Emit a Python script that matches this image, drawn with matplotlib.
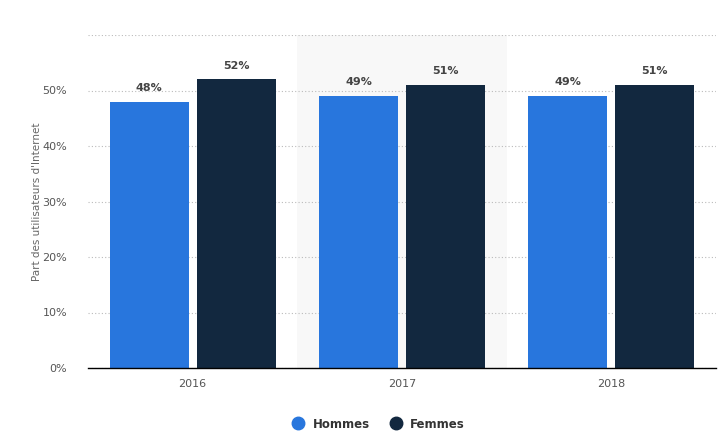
import matplotlib
matplotlib.use("Agg")
import matplotlib.pyplot as plt
import numpy as np
from matplotlib.lines import Line2D

years = ["2016", "2017", "2018"]
hommes = [48, 49, 49]
femmes = [52, 51, 51]
series_names = ["Hommes", "Femmes"]
yticks = [0, 10, 20, 30, 40, 50, 60]

C_H = "#2876dd"
C_F = "#12283f"

fig = plt.figure(figsize=(7.25, 4.45), dpi=100)
ax = fig.add_axes([88 / 725, 77 / 445, 628 / 725, 333 / 445])

x = np.arange(len(years))
w = 0.378
off = 0.208
ax.axvspan(0.5, 1.5, color="#f8f8f8", zorder=0, lw=0)
ax.bar(x - off, hommes, width=w, color=C_H, zorder=3)
ax.bar(x + off, femmes, width=w, color=C_F, zorder=3)

for xi, v in zip(x - off, hommes):
    ax.text(xi, v + 1.6, f"{v}%", ha="center", va="bottom", fontsize=8,
            fontweight="bold", color="#444444")
for xi, v in zip(x + off, femmes):
    ax.text(xi, v + 1.6, f"{v}%", ha="center", va="bottom", fontsize=8,
            fontweight="bold", color="#444444")

ax.set_xlim(-0.5, 2.5)
ax.set_ylim(0, 60)
ax.set_yticks(yticks)
ax.set_yticklabels([f"{t}%" if t < 60 else "" for t in yticks])
ax.set_xticks(x)
ax.set_xticklabels(years)
ax.yaxis.grid(True, linestyle=(0, (1, 2)), color="#bbbbbb", lw=0.8, zorder=1)
ax.tick_params(axis="both", length=0, labelsize=8, colors="#555555")
ax.tick_params(axis="y", pad=15)
ax.tick_params(axis="x", pad=8)
for sp in ["top", "right", "left"]:
    ax.spines[sp].set_visible(False)
ax.spines["bottom"].set_color("#000000")
ax.spines["bottom"].set_linewidth(1)
ax.spines["bottom"].set_zorder(4)
ax.set_ylabel("Part des utilisateurs d'Internet", fontsize=7.5, color="#666666", labelpad=10)
ax.yaxis.set_label_coords(-46 / 628, 0.5)

handles = [Line2D([0], [0], marker="o", linestyle="", markersize=9, color=c)
           for c in (C_H, C_F)]
leg = fig.legend(handles, series_names, loc="center", bbox_to_anchor=(0.518, 21 / 445),
                 ncol=2, frameon=False, fontsize=8.5, handletextpad=0.2, columnspacing=1.2)
for t in leg.get_texts():
    t.set_fontweight("bold")
    t.set_color("#333333")

fig.savefig("out.png", dpi=100)
